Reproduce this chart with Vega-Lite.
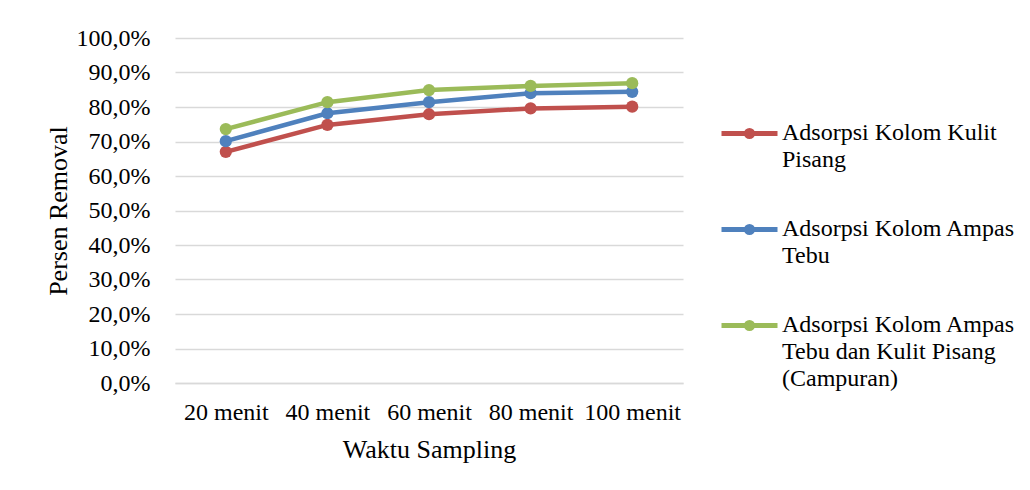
{
  "$schema": "https://vega.github.io/schema/vega-lite/v6.json",
  "autosize": "none",
  "width": 508,
  "height": 345,
  "padding": {"left": 175, "top": 38, "right": 347, "bottom": 107},
  "background": "white",
  "config": {
    "font": "Liberation Serif",
    "view": {"stroke": null},
    "axis": {"labelFont": "Liberation Serif", "titleFont": "Liberation Serif", "labelColor": "#000", "titleColor": "#000", "titleFontWeight": "normal"},
    "legend": {"labelFont": "Liberation Serif"}
  },
  "data": {
    "values": [
      {"waktu": "20 menit", "seri": "Adsorpsi Kolom Kulit Pisang", "nilai": 67.0},
      {"waktu": "40 menit", "seri": "Adsorpsi Kolom Kulit Pisang", "nilai": 74.8},
      {"waktu": "60 menit", "seri": "Adsorpsi Kolom Kulit Pisang", "nilai": 77.9},
      {"waktu": "80 menit", "seri": "Adsorpsi Kolom Kulit Pisang", "nilai": 79.6},
      {"waktu": "100 menit", "seri": "Adsorpsi Kolom Kulit Pisang", "nilai": 80.1},
      {"waktu": "20 menit", "seri": "Adsorpsi Kolom Ampas Tebu", "nilai": 70.1},
      {"waktu": "40 menit", "seri": "Adsorpsi Kolom Ampas Tebu", "nilai": 78.2},
      {"waktu": "60 menit", "seri": "Adsorpsi Kolom Ampas Tebu", "nilai": 81.4},
      {"waktu": "80 menit", "seri": "Adsorpsi Kolom Ampas Tebu", "nilai": 84.0},
      {"waktu": "100 menit", "seri": "Adsorpsi Kolom Ampas Tebu", "nilai": 84.4},
      {"waktu": "20 menit", "seri": "Adsorpsi Kolom Ampas Tebu dan Kulit Pisang (Campuran)", "nilai": 73.6},
      {"waktu": "40 menit", "seri": "Adsorpsi Kolom Ampas Tebu dan Kulit Pisang (Campuran)", "nilai": 81.4},
      {"waktu": "60 menit", "seri": "Adsorpsi Kolom Ampas Tebu dan Kulit Pisang (Campuran)", "nilai": 84.9},
      {"waktu": "80 menit", "seri": "Adsorpsi Kolom Ampas Tebu dan Kulit Pisang (Campuran)", "nilai": 86.1},
      {"waktu": "100 menit", "seri": "Adsorpsi Kolom Ampas Tebu dan Kulit Pisang (Campuran)", "nilai": 86.9}
    ]
  },
  "mark": {"type": "line", "strokeWidth": 4.5, "point": {"filled": true, "size": 150, "opacity": 1}},
  "encoding": {
    "x": {
      "field": "waktu", "type": "ordinal", "sort": null,
      "scale": {"type": "point", "padding": 0.5},
      "axis": {"title": "Waktu Sampling", "titleFont": "Liberation Serif", "labelFont": "Liberation Serif", "titleFontSize": 26, "titlePadding": 12, "labelFontSize": 24, "labelAngle": 0, "labelPadding": 17, "ticks": false, "domainColor": "#d9d9d9", "domainWidth": 1.5}
    },
    "y": {
      "field": "nilai", "type": "quantitative",
      "scale": {"domain": [0, 100], "nice": false},
      "axis": {"title": "Persen Removal", "titleFont": "Liberation Serif", "labelFont": "Liberation Serif", "titleFontSize": 26, "titlePadding": 5, "labelFontSize": 24, "labelPadding": 25, "ticks": false, "domain": false, "values": [0,10,20,30,40,50,60,70,80,90,100], "gridColor": "#d9d9d9", "gridWidth": 1.5, "labelExpr": "replace(format(datum.value, '.1f'), '.', ',') + '%'"}
    },
    "color": {
      "field": "seri", "type": "nominal",
      "scale": {"domain": ["Adsorpsi Kolom Kulit Pisang", "Adsorpsi Kolom Ampas Tebu", "Adsorpsi Kolom Ampas Tebu dan Kulit Pisang (Campuran)"], "range": ["#C0504D", "#4F81BD", "#9BBB59"]},
      "legend": {
        "title": null,
        "orient": "none",
        "legendX": 544,
        "legendY": 65,
        "symbolType": "M-1,0H1M-0.11,0A0.11,0.11 0 1,0 0.11,0A0.11,0.11 0 1,0 -0.11,0",
        "symbolSize": 3136,
        "symbolStrokeWidth": 5,
        "labelFont": "Liberation Serif",
        "labelFontSize": 24,
        "labelColor": "#000",
        "labelOffset": 2,
        "labelBaseline": "top",
        "rowPadding": 27,
        "labelLimit": 400,
        "labelExpr": "datum.label == 'Adsorpsi Kolom Kulit Pisang' ? ['Adsorpsi Kolom Kulit', 'Pisang'] : datum.label == 'Adsorpsi Kolom Ampas Tebu' ? ['Adsorpsi Kolom Ampas', 'Tebu'] : ['Adsorpsi Kolom Ampas', 'Tebu dan Kulit Pisang', '(Campuran)']",
        "encode": {
          "symbols": {"update": {"fill": {"scale": "color", "field": "value"}, "opacity": {"value": 1}}},
          "labels": {"update": {"lineHeight": {"value": 27}, "dy": {"value": -13}}}
        }
      }
    }
  }
}
